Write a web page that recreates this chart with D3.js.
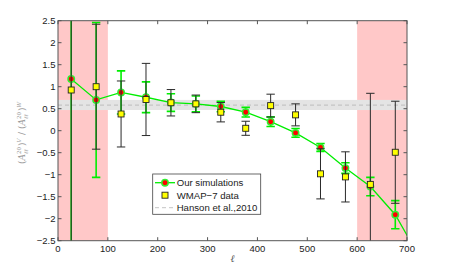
<!DOCTYPE html>
<html><head><meta charset="utf-8">
<script src="https://cdn.jsdelivr.net/npm/d3@7/dist/d3.min.js"></script>
<style>body{margin:0;background:#fff}svg{display:block;font-family:"Liberation Sans",Arial,sans-serif}</style>
</head><body><svg id="c" width="449" height="271"></svg>
<script>
// ---- data ----
const ell      = [26.5, 76.5, 126.5, 176.5, 226.5, 276.5, 326.5, 376.5, 426.5, 476.5, 526.5, 576.5, 626.5, 676.5];
const simVals  = [1.175, 0.70, 0.87, 0.76, 0.64, 0.61, 0.55, 0.42, 0.205, -0.05, -0.38, -0.85, -1.27, -1.91];
const simErr   = [4.0, 1.76, 0.49, 0.35, 0.20, 0.18, 0.12, 0.11, 0.11, 0.10, 0.09, 0.12, 0.21, 0.32];
const simTailEll = [726.5];
const simTailVal = [-2.9];
const wmapVals = [0.925, 1.0, 0.38, 0.71, 0.635, 0.61, 0.42, 0.055, 0.57, 0.36, -0.98, -1.05, -1.22, -0.49];
const wmapErr  = [4.0, 1.42, 0.75, 0.82, 0.30, 0.20, 0.22, 0.16, 0.26, 0.25, 0.57, 0.57, 2.07, 1.16];
const hansonVal = 0.58, hansonLo = 0.47, hansonHi = 0.70;
const maskRanges = [[0, 100], [600, 700]];
const xTicks = [0, 100, 200, 300, 400, 500, 600, 700];
const yTicks = [-2.5, -2, -1.5, -1, -0.5, 0, 0.5, 1, 1.5, 2, 2.5];
const legendLabels = ["Our simulations", "WMAP\u22127 data", "Hanson et al.,2010"];

// ---- layout ----
const L = 58, R = 407, T = 20.7, B = 240.7;
const svg = d3.select("#c");
const x = d3.scaleLinear().domain([0, 700]).range([L, R]);
const y = d3.scaleLinear().domain([-2.5, 2.5]).range([B, T]);
const fmt = v => String(v).replace("-", "\u2212");

svg.append("defs").append("clipPath").attr("id", "clip")
  .append("rect").attr("x", L).attr("y", T).attr("width", R - L).attr("height", B - T);
const plot = svg.append("g").attr("clip-path", "url(#clip)");

// masked regions
plot.selectAll("rect.mask").data(maskRanges).join("rect").attr("class", "mask")
  .attr("x", d => x(d[0])).attr("width", d => x(d[1]) - x(d[0]))
  .attr("y", T).attr("height", B - T).attr("fill", "#ffc8c8");
// Hanson band + dashed line
plot.append("rect").attr("x", L).attr("width", R - L)
  .attr("y", y(hansonHi)).attr("height", y(hansonLo) - y(hansonHi)).attr("fill", "#e4e4e4");
plot.append("line").attr("x1", L).attr("x2", R).attr("y1", y(hansonVal)).attr("y2", y(hansonVal))
  .attr("stroke", "#c4c4c4").attr("stroke-width", 1.2).attr("stroke-dasharray", "4,3");

const green = "#00ee00";
const cap = 4.2;
const simData = ell.map((l, i) => ({l, v: simVals[i], e: simErr[i]}));
const wmapData = ell.map((l, i) => ({l, v: wmapVals[i], e: wmapErr[i]}));

function errbars(g, data, color, w) {
  const eg = g.append("g").attr("stroke", color).attr("stroke-width", w).attr("fill", "none");
  eg.selectAll("line.v").data(data).join("line")
    .attr("x1", d => x(d.l)).attr("x2", d => x(d.l))
    .attr("y1", d => y(d.v + d.e)).attr("y2", d => y(d.v - d.e));
  eg.selectAll("line.t").data(data).join("line")
    .attr("x1", d => x(d.l) - cap).attr("x2", d => x(d.l) + cap)
    .attr("y1", d => y(d.v + d.e)).attr("y2", d => y(d.v + d.e));
  eg.selectAll("line.b").data(data).join("line")
    .attr("x1", d => x(d.l) - cap).attr("x2", d => x(d.l) + cap)
    .attr("y1", d => y(d.v - d.e)).attr("y2", d => y(d.v - d.e));
}

// simulations
errbars(plot, simData, green, 1.6);
const lineData = simData.concat(simTailEll.map((l, i) => ({l, v: simTailVal[i]})));
plot.append("path").datum(lineData)
  .attr("d", d3.line().x(d => x(d.l)).y(d => y(d.v)))
  .attr("fill", "none").attr("stroke", green).attr("stroke-width", 1.3);
plot.selectAll("circle.sim").data(simData).join("circle").attr("class", "sim")
  .attr("cx", d => x(d.l)).attr("cy", d => y(d.v)).attr("r", 3.2)
  .attr("fill", "#ff0000").attr("stroke", "#33ee33").attr("stroke-width", 1.5);

// WMAP
errbars(plot, wmapData, "#2a2a2a", 1);
plot.selectAll("rect.wm").data(wmapData).join("rect").attr("class", "wm")
  .attr("x", d => x(d.l) - 3).attr("y", d => y(d.v) - 3).attr("width", 6).attr("height", 6)
  .attr("fill", "#ffff00").attr("stroke", "#222").attr("stroke-width", 0.9);

// axes box
const axc = "#555";
svg.append("rect").attr("x", L).attr("y", T).attr("width", R - L).attr("height", B - T)
  .attr("fill", "none").attr("stroke", axc).attr("stroke-width", 1);
const tk = 3.5;
const ag = svg.append("g").attr("stroke", axc).attr("stroke-width", 1);
xTicks.forEach(t => {
  ag.append("line").attr("x1", x(t)).attr("x2", x(t)).attr("y1", B).attr("y2", B - tk);
  ag.append("line").attr("x1", x(t)).attr("x2", x(t)).attr("y1", T).attr("y2", T + tk);
});
yTicks.forEach(t => {
  ag.append("line").attr("x1", L).attr("x2", L + tk).attr("y1", y(t)).attr("y2", y(t));
  ag.append("line").attr("x1", R).attr("x2", R - tk).attr("y1", y(t)).attr("y2", y(t));
});
svg.append("g").selectAll("text").data(xTicks).join("text")
  .attr("x", d => x(d)).attr("y", 251.5).attr("text-anchor", "middle")
  .attr("font-size", 9.5).attr("fill", "#222").text(fmt);
svg.append("g").selectAll("text").data(yTicks).join("text")
  .attr("x", 55.5).attr("y", d => y(d) + 3.3).attr("text-anchor", "end")
  .attr("font-size", 9.5).attr("fill", "#222").text(fmt);

// x label
svg.append("text").attr("x", x(350)).attr("y", 262).attr("text-anchor", "middle")
  .attr("font-size", 10).attr("font-style", "italic").attr("font-family", "DejaVu Serif")
  .attr("fill", "#555").text("\u2113");

// y label (rotated)
const yl = svg.append("g").attr("transform", "translate(25,164) rotate(-90)")
  .attr("fill", "#999").attr("font-family", "DejaVu Serif");
function piece(txt, dx, dy, fs, it) {
  yl.append("text").attr("x", dx).attr("y", dy).attr("font-size", fs)
    .attr("font-style", it ? "italic" : "normal").text(txt);
}
piece("(", 0, 0, 9, false);
piece("A", 3.5, 0, 9, true);
piece("20", 10, -4.5, 5.5, false);
piece("\u2113\u2113", 10, 2.5, 5.5, true);
piece(")", 18, 0, 9, false);
piece("V", 21.5, -4.5, 5.5, true);
piece("/", 29, 0, 9, false);
piece("(", 35, 0, 9, false);
piece("A", 38.5, 0, 9, true);
piece("20", 45, -4.5, 5.5, false);
piece("\u2113\u2113", 45, 2.5, 5.5, true);
piece(")", 53, 0, 9, false);
piece("W", 56.5, -4.5, 5.5, true);

// legend
const lg = svg.append("g");
lg.append("rect").attr("x", 152.7).attr("y", 174).attr("width", 108).attr("height", 40.3)
  .attr("fill", "#fff").attr("stroke", "#444").attr("stroke-width", 0.8);
const ly = [182.7, 195.2, 207.7];
lg.append("line").attr("x1", 155).attr("x2", 175).attr("y1", ly[0]).attr("y2", ly[0])
  .attr("stroke", green).attr("stroke-width", 1.3);
lg.append("circle").attr("cx", 165).attr("cy", ly[0]).attr("r", 3.2)
  .attr("fill", "#ff0000").attr("stroke", "#33ee33").attr("stroke-width", 1.5);
lg.append("rect").attr("x", 162).attr("y", ly[1] - 3).attr("width", 6).attr("height", 6)
  .attr("fill", "#ffff00").attr("stroke", "#222").attr("stroke-width", 0.9);
lg.append("line").attr("x1", 155).attr("x2", 175).attr("y1", ly[2]).attr("y2", ly[2])
  .attr("stroke", "#c4c4c4").attr("stroke-width", 1).attr("stroke-dasharray", "4,3");
lg.selectAll("text").data(legendLabels).join("text")
  .attr("x", 176.7).attr("y", (d, i) => ly[i] + 3.4).attr("font-size", 9.6).attr("fill", "#222").text(d => d);
</script></body></html>
